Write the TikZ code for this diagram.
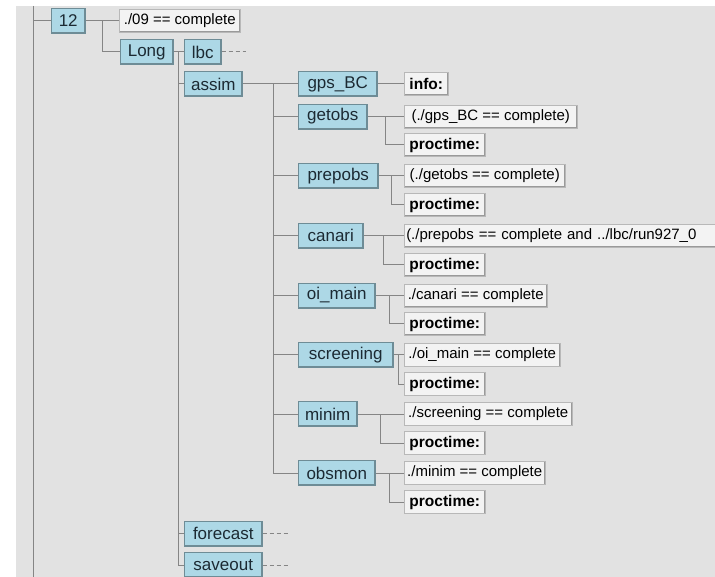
\documentclass[tikz,border=0pt]{standalone}
\usepackage{fontspec}
\setmainfont{Liberation Sans}
\usetikzlibrary{calc}
\definecolor{panel}{HTML}{E2E2E2}
\definecolor{famblue}{HTML}{ADD8E6}
\definecolor{famshade}{HTML}{6E8C96}
\definecolor{attrfill}{HTML}{F3F3F3}
\definecolor{attrshade}{HTML}{9A9A9A}
\definecolor{wiregrey}{HTML}{858585}
\definecolor{famtext}{HTML}{1C2A33}
\begin{document}
\begin{tikzpicture}[x=1pt, y=-1pt,
    famnode/.style={fill=famblue, draw=famshade, line width=0.5pt, minimum height=25pt,
      inner sep=0pt, anchor=west, text=famtext, font=\fontsize{17}{17}\selectfont,
      path picture={\draw[famshade, line width=2.4pt]
        (path picture bounding box.south west) -- (path picture bounding box.south east)
        -- (path picture bounding box.north east);}},
    attrnode/.style={fill=attrfill, draw=attrshade!70, line width=0.5pt, minimum height=23pt,
      inner xsep=2pt, inner ysep=0pt, anchor=west, font=\fontsize{15}{15}\selectfont,
      path picture={\draw[attrshade, line width=2pt]
        (path picture bounding box.south west) -- (path picture bounding box.south east)
        -- (path picture bounding box.north east);}},
    timenode/.style={attrnode, font=\fontsize{15.5}{15.5}\selectfont\bfseries},
    wire/.style={draw=wiregrey, line width=1pt},
    stub/.style={wire, dash pattern=on 4pt off 3pt}]
    \useasboundingbox (0,0) rectangle (715,577);
    \clip (0,0) rectangle (715,577);
    % grey panel
    \fill[panel] (16,6) rectangle (715,577);
    \coordinate (trunktop) at (33,6);
    \coordinate (trunkbot) at (33,577);

    % suite 12 and its trigger
    \node[famnode, minimum width=34pt] (n12) at (51,21) {12};
    \node[attrnode, minimum width=121pt] (dep09) at (119,21) {./09 == complete};
    % Long family
    \node[famnode, minimum width=53pt] (long) at (120,52) {Long};
    \node[famnode, minimum width=37pt] (lbc) at (184,52) {lbc};
    \node[famnode, minimum width=58pt] (assim) at (184,84) {assim};
    \node[famnode, minimum width=78pt] (forecast) at (184,533.5) {forecast};
    \node[famnode, minimum width=78pt] (saveout) at (184,565) {saveout};
    \coordinate (lbcend) at (246,52);
    \coordinate (forecastend) at (289,533.5);
    \coordinate (saveoutend) at (289,565);

    % tasks of assim
    \node[famnode, minimum width=79pt] (gps) at (298,84) {gps\_BC};
    \node[attrnode, minimum width=44pt, font=\fontsize{15.5}{15.5}\selectfont\bfseries] (gpsinfo) at (404,84) {info:};

    \node[famnode, minimum width=69pt] (getobs) at (298,116.5) {getobs};
    \node[attrnode, minimum width=173pt] (getobsdep) at (404,116.5) {(./gps\_BC == complete)};
    \node[timenode, minimum width=81pt] (getobspt) at (404,145) {proctime:};

    \node[famnode, minimum width=80pt] (prepobs) at (298,176) {prepobs};
    \node[attrnode, minimum width=161pt] (prepobsdep) at (404,176) {(./getobs == complete)};
    \node[timenode, minimum width=81pt] (prepobspt) at (404,205) {proctime:};

    \node[famnode, minimum width=65pt] (canari) at (298,235.5) {canari};
    \node[attrnode, text width=326pt, align=left] (canaridep) at (404,235.5) {(./prepobs == complete and ../lbc/run927\_0};
    \node[timenode, minimum width=81pt] (canaript) at (404,265) {proctime:};

    \node[famnode, minimum width=77pt] (oimain) at (298,295.5) {oi\_main};
    \node[attrnode, minimum width=143pt] (oimaindep) at (404,295.5) {./canari == complete};
    \node[timenode, minimum width=81pt] (oimainpt) at (404,324) {proctime:};

    \node[famnode, minimum width=95pt] (screening) at (298,355) {screening};
    \node[attrnode, minimum width=156pt] (screeningdep) at (404,355) {./oi\_main == complete};
    \node[timenode, minimum width=81pt] (screeningpt) at (404,384) {proctime:};

    \node[famnode, minimum width=59pt] (minim) at (298,414) {minim};
    \node[attrnode, minimum width=168pt] (minimdep) at (404,414) {./screening == complete};
    \node[timenode, minimum width=81pt] (minimpt) at (404,443) {proctime:};

    \node[famnode, minimum width=77pt] (obsmon) at (298,473) {obsmon};
    \node[attrnode, minimum width=141pt] (obsmondep) at (404,473) {./minim == complete};
    \node[timenode, minimum width=81pt] (obsmonpt) at (404,502) {proctime:};

    % tree lines
    \draw[wire] (trunktop) -- (trunkbot);
    \draw[wire] (trunktop |- n12.west) -- (n12.west);
    \draw[wire] (n12.east) -- (dep09.west);
    \draw[wire] ($(n12.east)!.5!(dep09.west)$) |- (long.west);
    \draw[wire] (long.east) -- (lbc.west);
    \coordinate (jlong) at ($(long.east)!.5!(lbc.west)$);
    \draw[wire] (jlong) |- (saveout.west);
    \draw[wire] (jlong |- assim.west) -- (assim.west);
    \draw[wire] (jlong |- forecast.west) -- (forecast.west);
    \draw[stub] (lbc.east) -- (lbcend);
    \draw[stub] (forecast.east) -- (forecastend);
    \draw[stub] (saveout.east) -- (saveoutend);
    % assim branch
    \draw[wire] (assim.east) -- (gps.west);
    \coordinate (jassim) at (273,84);
    \draw[wire] (jassim) |- (obsmon.west);
    \draw[wire] (jassim |- getobs.west) -- (getobs.west);
    \draw[wire] (jassim |- prepobs.west) -- (prepobs.west);
    \draw[wire] (jassim |- canari.west) -- (canari.west);
    \draw[wire] (jassim |- oimain.west) -- (oimain.west);
    \draw[wire] (jassim |- screening.west) -- (screening.west);
    \draw[wire] (jassim |- minim.west) -- (minim.west);
    % attributes of each task
    \draw[wire] (gps.east) -- (gpsinfo.west);
    \draw[wire] (getobs.east) -- (getobsdep.west);
    \draw[wire] ($(getobs.east)!.5!(getobsdep.west)$) |- (getobspt.west);
    \draw[wire] (prepobs.east) -- (prepobsdep.west);
    \draw[wire] ($(prepobs.east)!.5!(prepobsdep.west)$) |- (prepobspt.west);
    \draw[wire] (canari.east) -- (canaridep.west);
    \draw[wire] ($(canari.east)!.5!(canaridep.west)$) |- (canaript.west);
    \draw[wire] (oimain.east) -- (oimaindep.west);
    \draw[wire] ($(oimain.east)!.5!(oimaindep.west)$) |- (oimainpt.west);
    \draw[wire] (screening.east) -- (screeningdep.west);
    \draw[wire] ($(screening.east)!.5!(screeningdep.west)$) |- (screeningpt.west);
    \draw[wire] (minim.east) -- (minimdep.west);
    \draw[wire] ($(minim.east)!.5!(minimdep.west)$) |- (minimpt.west);
    \draw[wire] (obsmon.east) -- (obsmondep.west);
    \draw[wire] ($(obsmon.east)!.5!(obsmondep.west)$) |- (obsmonpt.west);
\end{tikzpicture}
\end{document}
